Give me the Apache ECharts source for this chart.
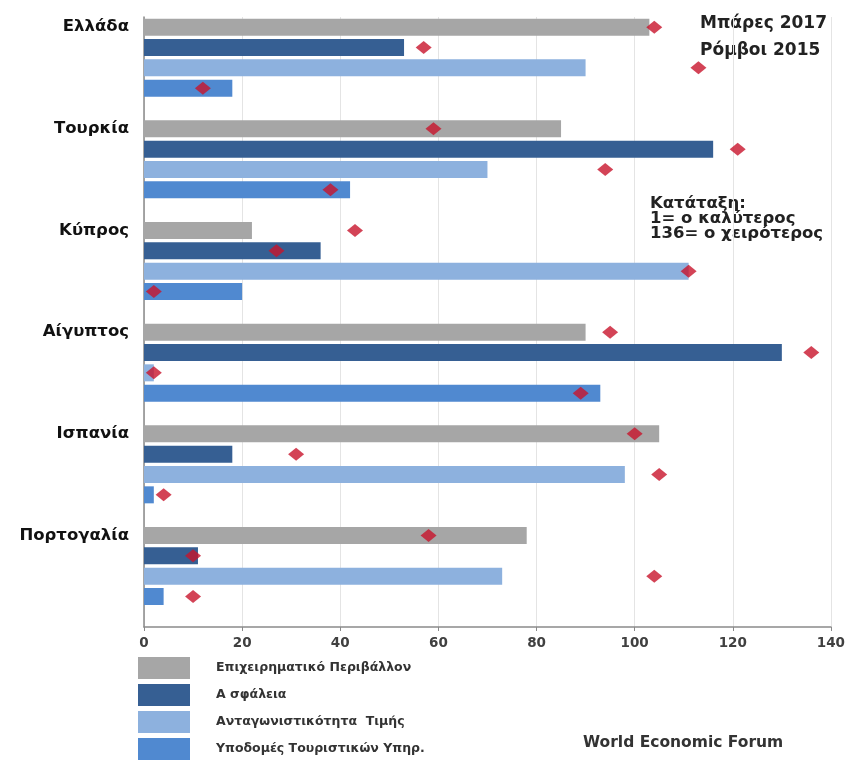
<!doctype html>
<html>
<head>
	<meta charset="utf-8">
	<title>Κατάταξη τουρισμού</title>
	<script src="https://cdn.jsdelivr.net/npm/echarts@6/dist/echarts.min.js"></script>
	<style type="text/css">
		html, body {
			margin: 0;
			padding: 0;
			background-color: #fff;
		}
		#rank-chart {
			width: 848px;
			height: 761px;
		}
	</style>
</head>
<body>
	<div id="rank-chart"></div>

	<script type="text/javascript">
		var countries = ['Ελλάδα', 'Τουρκία', 'Κύπρος', 'Αίγυπτος', 'Ισπανία', 'Πορτογαλία'];
		var seriesNames = ['Επιχειρηματικό Περιβάλλον', 'Α σφάλεια', 'Ανταγωνιστικότητα  Τιμής', 'Υποδομές Τουριστικών Υπηρ.'];
		var xTicks = [0, 20, 40, 60, 80, 100, 120, 140];

		// μπάρες 2017
		var business2017 = [103, 85, 22, 90, 105, 78];
		var safety2017 = [53, 116, 36, 130, 18, 11];
		var price2017 = [90, 70, 111, 2, 98, 73];
		var infra2017 = [18, 42, 20, 93, 2, 4];

		// ρόμβοι 2015
		var business2015 = [104, 59, 43, 95, 100, 58];
		var safety2015 = [57, 121, 27, 136, 31, 10];
		var price2015 = [113, 94, 111, 2, 105, 104];
		var infra2015 = [12, 38, 2, 89, 4, 10];

		var barColors = ['#a6a6a6', '#365f93', '#8db1de', '#5089d0'];
		var font = 'DejaVu Sans';

		// each country gets 5 rows: 4 bars + 1 empty row
		var rowsPerCountry = 5;
		var rowLabels = [];
		for (var i = 0; i < countries.length; i++) {
			rowLabels.push(countries[i]);
			for (var k = 1; k < rowsPerCountry; k++) {
				rowLabels.push('');
			}
		}

		function barRows(values, slot) {
			var out = [];
			for (var r = 0; r < rowLabels.length; r++) {
				out.push(null);
			}
			for (var i = 0; i < values.length; i++) {
				out[i * rowsPerCountry + slot] = values[i];
			}
			return out;
		}

		function diamondPoints() {
			var lists = [business2015, safety2015, price2015, infra2015];
			var out = [];
			for (var s = 0; s < lists.length; s++) {
				for (var i = 0; i < lists[s].length; i++) {
					out.push([lists[s][i], i * rowsPerCountry + s]);
				}
			}
			return out;
		}

		function loadRankChart() {
			var myChart = echarts.init(document.getElementById('rank-chart'));
			var barLists = [business2017, safety2017, price2017, infra2017];
			var series = [];
			for (var s = 0; s < barLists.length; s++) {
				series.push({
					name: seriesNames[s],
					type: 'bar',
					barWidth: 17,
					barGap: '-100%',
					itemStyle: { color: barColors[s] },
					data: barRows(barLists[s], s)
				});
			}
			series.push({
				name: '2015',
				type: 'scatter',
				symbol: 'diamond',
				symbolSize: [16, 13],
				z: 5,
				itemStyle: { color: '#c8142c' },
				data: diamondPoints()
			});

			var option = {
				animation: false,
				grid: {
					left: 144,
					right: 13,
					top: 17,
					bottom: 134
				},
				legend: {
					data: seriesNames,
					orient: 'vertical',
					left: 138,
					top: 657,
					padding: 0,
					icon: 'rect',
					itemWidth: 52,
					itemHeight: 22,
					itemGap: 5,
					selectedMode: false,
					textStyle: {
						fontFamily: font,
						fontWeight: 'bold',
						fontSize: 12.5,
						color: '#333',
						padding: [0, 0, 0, 21]
					}
				},
				xAxis: {
					type: 'value',
					min: 0,
					max: 140,
					interval: 20,
					axisLine: { show: true, lineStyle: { color: '#8a8a8a', width: 1.5 } },
					axisTick: { show: true, length: 4, lineStyle: { color: '#8a8a8a' } },
					splitLine: { show: true, lineStyle: { color: '#e4e4e4' } },
					axisLabel: {
						margin: 9,
						fontFamily: font,
						fontWeight: 'bold',
						fontSize: 13.5,
						color: '#404040',
						formatter: function (v) {
							return xTicks.indexOf(v) >= 0 ? String(v) : '';
						}
					}
				},
				yAxis: {
					type: 'category',
					inverse: true,
					data: rowLabels,
					axisLine: { show: true, lineStyle: { color: '#8a8a8a', width: 1.5 } },
					axisTick: { show: false },
					axisLabel: {
						interval: 0,
						margin: 15,
						fontFamily: font,
						fontWeight: 'bold',
						fontSize: 16.5,
						color: '#111'
					}
				},
				graphic: [
					{
						type: 'text',
						left: 700,
						top: 15,
						style: { text: 'Μπάρες 2017', fontFamily: font, fontWeight: 'bold', fontSize: 17, fill: '#222' }
					},
					{
						type: 'text',
						left: 700,
						top: 42,
						style: { text: 'Ρόμβοι 2015', fontFamily: font, fontWeight: 'bold', fontSize: 17, fill: '#222' }
					},
					{
						type: 'text',
						left: 650,
						top: 195,
						style: {
							text: 'Κατάταξη:\n1= ο καλύτερος\n136= ο χειρότερος',
							fontFamily: font,
							fontWeight: 'bold',
							fontSize: 16.5,
							lineHeight: 15,
							fill: '#222'
						}
					},
					{
						type: 'text',
						left: 583,
						top: 735,
						style: { text: 'World Economic Forum', fontFamily: font, fontWeight: 'bold', fontSize: 15.5, fill: '#333' }
					}
				],
				series: series
			};
			myChart.setOption(option);
		}

		loadRankChart();
	</script>
</body>
</html>
